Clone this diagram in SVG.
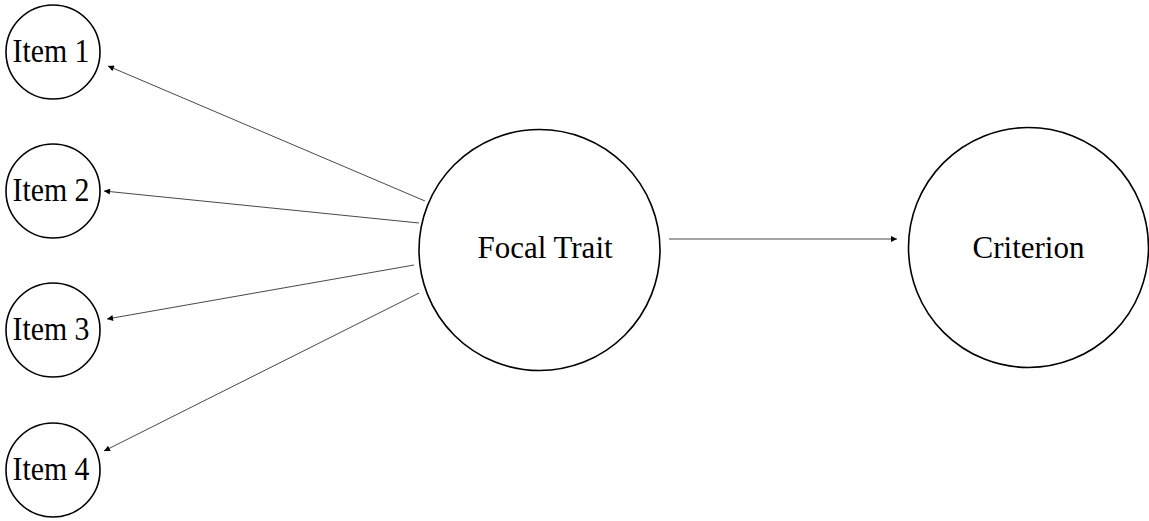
<svg xmlns="http://www.w3.org/2000/svg" width="1149" height="521" viewBox="0 0 1149 521">
<style>
.node circle{fill:#fff;stroke:#000;stroke-width:1.6}
.node text{font-family:"Liberation Serif","Times New Roman",serif;fill:#000;text-anchor:middle}
.item text{font-size:33px}
.big text{font-size:31px}
.conn line{stroke:#333;stroke-width:0.9;marker-end:url(#ah)}
</style>
<defs>
<marker id="ah" viewBox="0 0 10 10" refX="10" refY="5" markerWidth="8" markerHeight="6" markerUnits="userSpaceOnUse" orient="auto">
<path d="M0,0 L10,5 L0,10 z" fill="#000"/>
</marker>
</defs>
<rect width="1149" height="521" fill="#fff"/>
<g id="connectors" class="conn">
<line x1="425" y1="201" x2="108" y2="66"/>
<line x1="419" y1="223" x2="104" y2="191"/>
<line x1="414" y1="265" x2="107" y2="319"/>
<line x1="419" y1="293" x2="104" y2="451"/>
<line x1="669" y1="239" x2="897" y2="239"/>
</g>
<g id="item1" class="node item"><circle cx="53" cy="52" r="47"/><text x="51" y="62" textLength="77" lengthAdjust="spacingAndGlyphs">Item 1</text></g>
<g id="item2" class="node item"><circle cx="53" cy="191" r="47"/><text x="51" y="201" textLength="77" lengthAdjust="spacingAndGlyphs">Item 2</text></g>
<g id="item3" class="node item"><circle cx="53" cy="330" r="47"/><text x="51" y="340" textLength="77" lengthAdjust="spacingAndGlyphs">Item 3</text></g>
<g id="item4" class="node item"><circle cx="53" cy="470" r="47"/><text x="51" y="480" textLength="77" lengthAdjust="spacingAndGlyphs">Item 4</text></g>
<g id="focal" class="node big"><circle cx="539.5" cy="250" r="120.5"/><text x="545" y="258">Focal Trait</text></g>
<g id="criterion" class="node big"><circle cx="1028.5" cy="247.5" r="120"/><text x="1028.5" y="258">Criterion</text></g>
</svg>
